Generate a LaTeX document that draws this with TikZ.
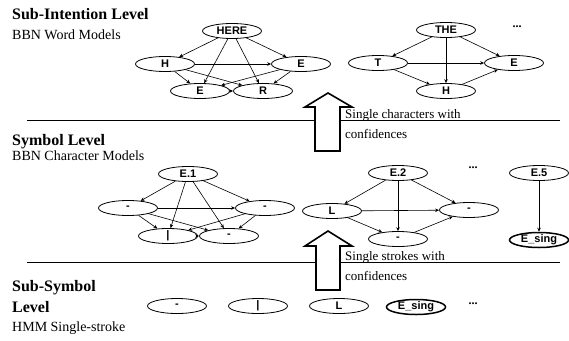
\documentclass[tikz,border=0pt]{standalone}
\usepackage{fontspec}
\setmainfont{Liberation Serif}
\newfontfamily\nodefont{Liberation Sans}
\usetikzlibrary{shapes.geometric,arrows.meta}
\begin{document}
\begin{tikzpicture}[x=1pt,y=-1pt,
  st/.style={ellipse,draw,line width=0.8pt,minimum width=59pt,minimum height=15pt,inner sep=0pt,
    font=\nodefont\bfseries\fontsize{11}{12}\selectfont},
  thickst/.style={st,line width=1.5pt},
  edge/.style={-{Stealth[length=4pt,width=3.5pt]},line width=0.6pt},
  lvl/.style={anchor=base west,inner sep=0pt,font=\bfseries\fontsize{16}{18}\selectfont},
  subl/.style={anchor=base west,inner sep=0pt,font=\fontsize{14}{16}\selectfont},
  note/.style={anchor=base west,inner sep=0pt,font=\fontsize{13}{15}\selectfont},
  dotsn/.style={inner sep=0pt,font=\fontsize{12}{13}\selectfont},
  bigarrow/.style={line width=1.6pt,fill=white,line join=miter}
]
\useasboundingbox (0,0) rectangle (569,340);

% separator lines
\coordinate (la1) at (27,120); \coordinate (la2) at (560,120);
\coordinate (lb1) at (27,262); \coordinate (lb2) at (560,262);
\draw[line width=0.8pt] (la1) -- (la2);
\draw[line width=0.8pt] (lb1) -- (lb2);

% level labels
\node[lvl] (t1) at (12,19) {Sub-Intention Level};
\node[subl] (t1b) at (12,39) {BBN Word Models};
\node[lvl] (t2) at (12,145) {Symbol Level};
\node[subl] (t2b) at (12,160) {BBN Character Models};
\node[lvl] (t3) at (12,291) {Sub-Symbol};
\node[lvl] (t3a) at (12,312) {Level};
\node[subl] (t3b) at (12,331) {HMM Single-stroke};

% word model HERE
\node[st] (here) at (232,31) {HERE};
\node[st] (h1) at (165,64) {H};
\node[st] (e1) at (301,64) {E};
\node[st] (e2) at (200,91) {E};
\node[st] (r1) at (263,91) {R};
\foreach \a/\b in {here/h1,here/e1,here/e2,here/r1,h1/e1,h1/e2,h1/r1,e1/e2,e1/r1,e2/r1}
  \draw[edge] (\a) -- (\b);

% word model THE
\node[st] (the) at (446,30) {THE};
\node[st] (t2n) at (378,63) {T};
\node[st] (e3) at (514,63) {E};
\node[st] (h2) at (446,91) {H};
\foreach \a/\b in {the/t2n,the/e3,the/h2,t2n/e3,t2n/h2,h2/e3}
  \draw[edge] (\a) -- (\b);
\node[dotsn] (d1) at (517,27) {\textbf{...}};

% character model E.1
\node[st] (e11) at (188,174) {E.1};
\node[st] (m1) at (128,208) {-};
\node[st] (m2) at (265,208) {-};
\node[st] (m3) at (168,236) {|};
\node[st] (m4) at (229,236) {-};
\foreach \a/\b in {e11/m1,e11/m2,e11/m3,e11/m4,m1/m2,m1/m3,m1/m4,m2/m3,m2/m4,m3/m4}
  \draw[edge] (\a) -- (\b);

% character model E.2
\node[st] (e21) at (398,173) {E.2};
\node[st] (l2) at (332,211) {L};
\node[st] (n2) at (469,210) {-};
\node[st] (b2) at (398,239) {-};
\foreach \a/\b in {e21/l2,e21/n2,e21/b2,l2/n2,l2/b2,b2/n2}
  \draw[edge] (\a) -- (\b);
\node[dotsn] (d2) at (473,168) {\textbf{...}};

% character model E.5
\node[st] (e5) at (539,173) {E.5};
\node[thickst] (es) at (539,240) {E\_sing};
\draw[edge] (e5) -- (es);

% single strokes
\node[st] (s1) at (177,306) {-};
\node[st] (s2) at (258,306) {|};
\node[st] (s3) at (339,306) {L};
\node[thickst] (s4) at (416,307) {E\_sing};
\node[dotsn] (d3) at (473,304) {\textbf{...}};

% big hollow arrows
\draw[bigarrow] (315,151) -- (315,107) -- (305,107) -- (328,93) -- (352,107) -- (340,107) -- (340,151) -- cycle;
\draw[bigarrow] (316,290) -- (316,246) -- (305,246) -- (328,231) -- (352,246) -- (340,246) -- (340,290) -- cycle;

\node[note] (c1) at (345,118) {Single characters with};
\node[note] (c1b) at (345,138) {confidences};
\node[note] (c2) at (345,260) {Single strokes with};
\node[note] (c2b) at (345,280) {confidences};
\end{tikzpicture}
\end{document}
